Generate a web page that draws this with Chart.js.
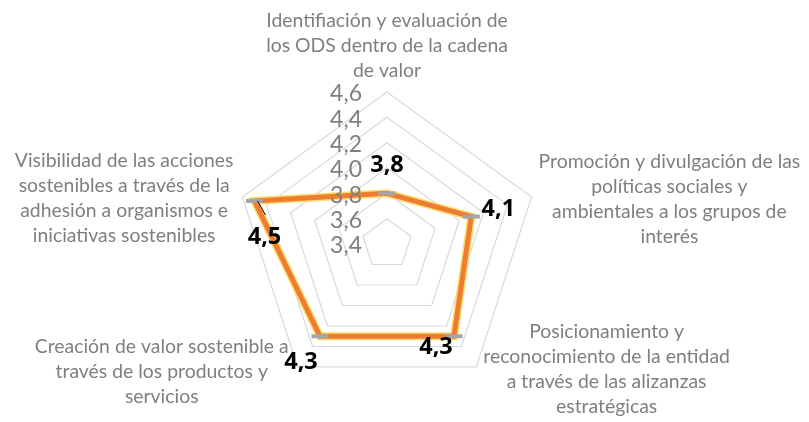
<!DOCTYPE html>
<html>
<head>
<meta charset="utf-8">
<script src="https://cdn.jsdelivr.net/npm/chart.js@4.4.1/dist/chart.umd.min.js"></script>
<style>
  html, body { margin: 0; padding: 0; background: #fff; }
  #wrap { width: 809px; height: 422px; }
</style>
</head>
<body>
<div id="wrap"><canvas id="radar_ods" width="809" height="422"></canvas></div>
<script>
// categorias (ya partidas en lineas como en el original)
const categorias = [
    ['Identifiación y evaluación de', 'los ODS dentro de la cadena', 'de valor'],
    ['Promoción y divulgación de las', 'políticas sociales y', 'ambientales a los grupos de', 'interés'],
    ['Posicionamiento y', 'reconocimiento de la entidad', 'a través de las alizanzas', 'estratégicas'],
    ['Creación de valor sostenible a', 'través de los productos y', 'servicios'],
    ['Visibilidad de las acciones', 'sostenibles a través de la', 'adhesión a organismos e', 'iniciativas sostenibles']
];
const valores = [3.8, 4.1, 4.3, 4.3, 4.5];
const etiquetasValores = ['3,8', '4,1', '4,3', '4,3', '4,5'];
const etiquetasEje = ['3,4', '3,6', '3,8', '4,0', '4,2', '4,4', '4,6'];

const gris = '#7f7f7f';
const fuente = 'Lato, "Open Sans", sans-serif';

// desplazamiento de las etiquetas de datos respecto del punto
const offsetsEtiquetas = [[0, -28], [27, -7], [-18, 11], [-19, 26], [10, 36]];

const textosPlugin = {
    id: 'textos',
    afterDatasetsDraw(chart) {
        const ctx = chart.ctx;
        const scale = chart.scales.r;
        ctx.save();

        // etiquetas de categoria
        const lh = 25;
        ctx.font = '19.4px ' + fuente;
        ctx.fillStyle = gris;
        ctx.textAlign = 'center';
        ctx.textBaseline = 'middle';
        categorias.forEach((lineas, i) => {
            const p = scale.getPointPosition(i, scale.drawingArea);
            const w = Math.max(...lineas.map(l => ctx.measureText(l).width));
            let cx, top;
            if (Math.abs(p.x - scale.xCenter) < 2) {
                cx = p.x;
                top = p.y - 9 - lineas.length * lh;
            } else if (p.x > scale.xCenter) {
                cx = p.x + 7 + w / 2;
                top = p.y + 2 - lineas.length * lh / 2;
            } else {
                cx = p.x - 9 - w / 2;
                top = p.y + (p.y > scale.yCenter ? 5 : 1) - lineas.length * lh / 2;
            }
            lineas.forEach((l, k) => ctx.fillText(l, cx, top + lh * k + lh / 2));
        });

        // etiquetas del eje radial
        ctx.font = '23px ' + fuente;
        ctx.textAlign = 'right';
        etiquetasEje.forEach(t => {
            const v = parseFloat(t.replace(',', '.'));
            const d = scale.getDistanceFromCenterForValue(v);
            ctx.fillText(t, scale.xCenter - 25, scale.yCenter - d + 2);
        });

        // etiquetas de datos
        const meta = chart.getDatasetMeta(0);
        ctx.font = 'bold 23.5px "Open Sans", sans-serif';
        ctx.fillStyle = '#000';
        ctx.textAlign = 'center';
        meta.data.forEach((pt, i) => {
            const o = offsetsEtiquetas[i];
            ctx.fillText(etiquetasValores[i], pt.x + o[0], pt.y + o[1]);
        });
        // linea guia de la ultima etiqueta
        const last = meta.data[4];
        ctx.strokeStyle = '#000';
        ctx.lineWidth = 1;
        ctx.beginPath();
        ctx.moveTo(last.x + 3, last.y);
        ctx.lineTo(last.x + 11, last.y + 14);
        ctx.stroke();

        ctx.restore();
    }
};

const ctx = document.getElementById('radar_ods').getContext('2d');
const myChart = new Chart(ctx, {
    type: 'radar',
    data: {
        labels: categorias,
        datasets: [{
            data: valores,
            borderColor: '#ed7d31',
            borderWidth: 5,
            backgroundColor: 'transparent',
            fill: false,
            pointStyle: 'line',
            pointRadius: 8.5,
            pointBorderWidth: 4,
            pointBorderColor: '#a5a5a5',
            pointBackgroundColor: '#a5a5a5',
        }, {
            // brillo amarillo debajo de la linea
            data: valores,
            borderColor: '#ffdb70',
            borderWidth: 8,
            backgroundColor: 'transparent',
            fill: false,
            pointRadius: 0,
            pointHoverRadius: 0,
        }]
    },
    options: {
        responsive: false,
        animation: false,
        layout: {
            padding: { top: 92, bottom: 26, left: 235, right: 270 }
        },
        plugins: {
            legend: { display: false },
            tooltip: { enabled: false }
        },
        scales: {
            r: {
                min: 3.4,
                max: 4.6,
                ticks: { stepSize: 0.2, display: false },
                angleLines: { display: false },
                pointLabels: { display: false },
                grid: { color: '#d9d9d9', lineWidth: 1.2 }
            }
        }
    },
    plugins: [textosPlugin]
});
</script>
</body>
</html>
